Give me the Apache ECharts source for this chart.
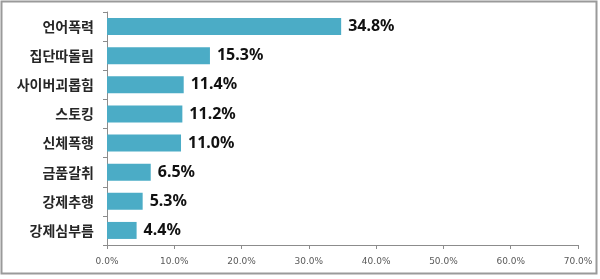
<!DOCTYPE html>
<html><head><meta charset="utf-8">
<script src="https://cdn.jsdelivr.net/npm/echarts@6/dist/echarts.min.js"></script>
<style>html,body{margin:0;padding:0;background:#fff}#c{width:600px;height:279px}</style>
</head><body><div id="c"></div>
<script>
const categories = ['언어폭력','집단따돌림','사이버괴롭힘','스토킹','신체폭행','금품갈취','강제추행','강제심부름'];
const values = [34.8, 15.3, 11.4, 11.2, 11.0, 6.5, 5.3, 4.4];
const xTicks = [0, 10, 20, 30, 40, 50, 60, 70];

const chart = echarts.init(document.getElementById('c'), null, {renderer:'canvas'});
chart.setOption({
  animation: false,
  backgroundColor: '#fff',
  graphic: [{
    type: 'rect', shape: {x: 1.5, y: 1.5, width: 595, height: 272},
    style: {fill: 'none', stroke: '#9a9a9a', lineWidth: 2}, silent: true
  }],
  grid: {left: 107, right: 22, top: 12, bottom: 34, containLabel: false},
  xAxis: {
    type: 'value', min: xTicks[0], max: xTicks[xTicks.length-1], interval: 10,
    axisLine: {show: true, lineStyle: {color: '#8c8c8c', width: 1}},
    axisTick: {show: true, length: 4, inside: false, lineStyle: {color: '#8c8c8c'}},
    splitLine: {show: false},
    axisLabel: {formatter: v => v.toFixed(1) + '%', fontFamily: 'DejaVu Sans', fontSize: 9, color: '#595959', margin: 12}
  },
  yAxis: {
    type: 'category', data: categories, inverse: true,
    axisLine: {show: true, lineStyle: {color: '#8c8c8c', width: 1}},
    axisTick: {show: true, length: 4, lineStyle: {color: '#8c8c8c'}},
    axisLabel: {fontFamily: 'Noto Sans CJK KR', fontSize: 14, fontWeight: 'bold', color: '#262626', margin: 13}
  },
  series: [{
    type: 'bar', data: values, barWidth: 17,
    itemStyle: {color: '#4bacc6'},
    label: {show: true, position: 'right', distance: 7, formatter: p => p.value.toFixed(1) + '%',
      fontFamily: 'Noto Sans', fontSize: 16, fontWeight: 'bold', color: '#111'}
  }]
});
</script></body></html>
